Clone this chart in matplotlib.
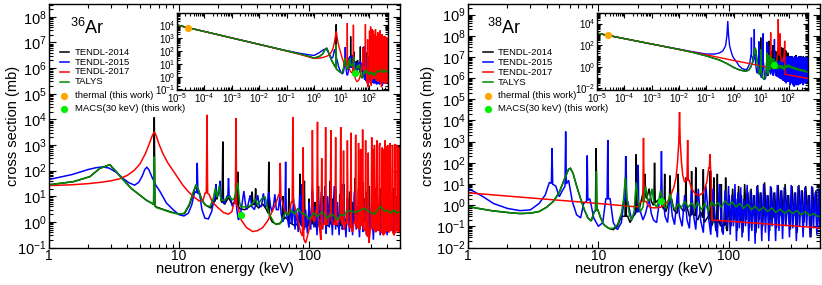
import numpy as np
import matplotlib
matplotlib.use("Agg")
import matplotlib.pyplot as plt
from matplotlib.ticker import (LogLocator, FixedLocator, FuncFormatter,
                               NullFormatter, LogFormatterSciNotation)
from matplotlib.lines import Line2D

plt.rcParams['font.family'] = ['Liberation Sans', 'DejaVu Sans']
plt.rcParams['mathtext.fontset'] = 'custom'
plt.rcParams['mathtext.rm'] = 'Liberation Sans'
plt.rcParams['mathtext.it'] = 'Liberation Sans:italic'
plt.rcParams['mathtext.bf'] = 'Liberation Sans:bold'
plt.rcParams['mathtext.default'] = 'regular'

# ---------------------------------------------------------------- data
# (energy keV, cross section mb) knots, plus narrow
# resonances (energy keV, peak mb)
labels = ["TENDL-2014", "TENDL-2015", "TENDL-2017", "TALYS"]
marker_labels = ["thermal (this work)", "MACS(30 keV) (this work)"]

# ---------- 36Ar
ar36_t14 = [(1e-5,1.05e4),(1e-4,3.3e3),(1e-3,1.05e3),(1e-2,330),(0.1,103),(0.3,58),(0.6,40),
            (1.0,28),(1.54,37),(2.06,58),(2.46,122),(2.93,170),(3.3,90),(3.7,45),(4.3,20),(5.0,11),
            (5.6,7),(6.2,5.3),(6.7,3.8),(7.5,3.1),(8.5,2.5),(10,2.0),(11,2.1),(12,4.5),(12.8,12),
            (13.5,28),(14.2,16),(15,7),(16,4.5),(17.5,3.5),(18.6,6),(19.6,8),(20.4,20),(21.2,6),
            (22.5,5),(24,9),(25.5,5),(27,6),(29.5,3.2),(32,3.0),(35,4),(38,5),(41,3.5),(44,5),
            (47,3),(52,1.0),(56,0.8),(60,0.9),(66,1.5),(72,0.9),(78,0.7),(84,1.0),(90,0.6),
            (97,0.7),(105,0.9),(115,0.6),(125,1.0),(140,0.7),(155,1.0),(170,0.6),(190,1.2),
            (210,0.8),(230,1.1),(250,0.7),(275,1.3),(300,0.8),(330,1.0),(360,0.6),(400,0.9),
            (440,0.6),(470,0.8),(500,0.7)]
ar36_t14_res = [(6.45,1.2e4),(19.2,30),(21.7,1350),(28.3,90),(36.5,15),(38.8,20),(49,220),
                (63,10),(70,20),(85,75),(92,40),(100,8),(106,15),(111,6),(118,25),(128,10),
                (136,5),(145,40),(152,8),(160,20),(172,12),(185,30),(197,8),(205,15),(215,6),
                (225,50),(240,20),(258,35),(266,8),(279,15),(290,25),(310,12),(320,6),(333,40),
                (350,20),(365,8),(375,15),(388,6),(403,30),(420,12),(432,5),(445,20),(458,8),
                (473,10),(490,15)]

ar36_t15 = [(1e-5,1.05e4),(1e-4,3.3e3),(1e-3,1.05e3),(1e-2,332),(0.1,106),(0.3,66),(0.6,52),
            (1.0,45),(1.5,70),(2.0,110),(2.3,130),(2.6,140),(2.9,125),(3.3,85),(3.7,50),(4.1,34),
            (4.55,27),(4.9,35),(5.2,60),(5.45,110),(5.65,135),(5.85,110),(6.2,55),(6.6,28),
            (7.1,16),(8.0,5.4),(9.0,3.0),(10,1.9),(10.9,1.7),(11.8,2.2),(12.5,4.5),(13.2,15),
            (14.4,12),(15,3),(15.8,1.4),(16.8,1.3),(17.8,2.5),(18.6,8),(19.7,10),(20.2,15),
            (21.3,10),(22.3,5),(23.3,10),(24.7,10),(25.7,4),(26.6,6),(27.2,12),(27.8,3),
            (28.6,1.2),(29.5,1.5),(30.5,5),(31.5,16),(32.4,5),(33.3,3),(34.3,6),(35.2,11),
            (36.2,4),(38,3),(39.3,6),(40.3,11),(41.5,4),(43,4),(44.5,13),(46,4),(47.5,4),(49,15),
            (50.5,4),(52,2.5),(53.5,5),(54.5,12),(56,3),(58,3),(59.5,10),(61,2),(63,1.0),(65,3),
            (68,1.5),(70,0.6),(72,4),(74,0.8),(76,8),(78,0.5),(80,3),(82.5,0.4),(85,12),(87,0.7),
            (89.5,5),(92,0.5),(94,3),(97,0.35),(100,6),(103,0.5),(106,20),(109,0.6),(112,4),
            (115,0.3),(118,8),(121,0.6),(124,15),(127,0.5),(131,5),(135,0.35),(139,10),(143,0.6),
            (147,4),(151,0.3),(156,25),(160,0.5),(165,6),(170,0.3),(175,12),(180,0.5),(186,4),
            (192,0.25),(198,9),(204,0.4),(210,5),(216,0.3),(223,15),(230,0.5),(237,4),(244,0.25),
            (252,10),(260,0.4),(268,6),(276,0.3),(285,12),(294,0.5),(303,4),(312,0.2),(322,8),
            (332,0.45),(342,5),(352,0.3),(363,10),(374,0.5),(386,4),(398,0.3),(410,8),(423,0.5),
            (436,5),(449,0.35),(463,7),(477,0.5),(490,4),(500,0.6)]
ar36_t15_res = [(13.8,200),(19.2,30),(20.7,40),(24.0,50),(66,220),(88,30),(133,25),(178,30),
                (255,25),(327,20),(416,15)]

ar36_t17 = [(1e-5,1.05e4),(1e-4,3.3e3),(1e-3,1.05e3),(1e-2,328),(0.1,100),(0.3,55),(0.6,36),
            (1.0,26),(1.5,28),(2.0,31),(2.5,35),(3.0,40),(3.5,48),(4.0,65),(4.5,100),(5.0,180),
            (5.5,450),(5.9,1100),(6.2,2200),(6.45,3300),(6.7,2200),(7.0,1100),(7.5,470),(8.2,200),
            (9.0,100),(10,45),(10.7,27),(11.8,15),(12.8,10),(14.3,6.5),(15.3,7),(15.9,14),
            (17.0,12),(18,6),(20,3.5),(22,2.3),(24,2.0),(25.5,2.5),(26.6,6),(28.3,4),(30,1.2),
            (33,0.6),(36.8,0.42),(40,0.45),(44,0.6),(48,1.1),(52,2.5),(56,6),(58.5,12),(61.5,8),
            (65,2.5),(70,2.0),(73,6),(77,5),(81,1.5),(86,0.4),(94,0.15),(100,0.5),(103,1.5),
            (110,1.0),(113,3),(119,1.0),(123,0.2),(128,0.8),(139,0.8),(143,2),(151,1.0),(155,0.8),
            (166,0.8),(170,1.5),(181,0.8),(186,0.5),(191,1.0),(203,0.7),(216,0.4),(222,1.0),
            (234,0.6),(246,0.5),(252,0.8),(265,0.5),(280,0.3),(288,0.15),(296,0.5),(310,0.6),
            (325,0.4),(342,0.5),(358,0.4),(375,0.3),(393,0.5),(411,0.4),(430,0.5),(450,0.3),
            (470,0.5),(490,0.4),(500,0.5)]
ar36_t17_res = [(16.4,1.5e4),(27.4,1.1e4),(60,200),(75,1.2e4),(90,800),(106,3800),(116,8000),
                (125,300),(134,5000),(147,3800),(160,2000),(175,5000),(184,600),(197,1500),
                (210,3000),(228,2500),(240,1200),(249,700),(258,4000),(272,1500),(285,500),
                (303,2000),(314,700),(318,1000),(333,1500),(346,900),(350,1200),(362,600),
                (366,800),(379,700),(384,1500),(397,900),(402,1000),(415,700),(420,1200),
                (435,1000),(440,900),(455,800),(460,1100),(475,900),(480,1000),(494,700),(497,800)]

ar36_talys = [(1e-5,1.05e4),(1e-4,3.3e3),(1e-3,1.05e3),(1e-2,330),(0.1,103),(0.3,58),(0.6,40),
              (1.0,28),(1.54,37),(2.06,58),(2.46,122),(2.93,170),(3.3,90),(3.7,45),(4.3,20),
              (5.0,11),(5.6,7),(6.2,5.3),(6.7,3.6),(7.5,3.0),(8.5,2.4),(10,2.0),(11,2.2),(12,5),
              (12.8,14),(13.5,28),(14.2,16),(14.8,8),(15.8,4.6),(17.3,3.9),(18.3,8),(19,20),
              (19.6,9),(20.4,27),(21,7),(22.3,7),(23.5,9),(24.5,10),(25.5,7),(26.8,9),(28.3,35),
              (29.2,6),(29.8,3.9),(33,3.8),(36,4.5),(38.5,8),(40.3,4.5),(43.2,8),(46,9.5),(47.5,4),
              (49,2.2),(53.9,0.9),(57,0.8),(60,0.85),(63,1.5),(66,2.4),(69,1.8),(72.7,2.9),(77,2.0),
              (82,3.4),(87,2.2),(92,2.0),(100,1.3),(108,2.2),(116,1.6),(126,2.5),(138,1.4),
              (150,2.0),(165,1.2),(175,1.9),(185,1.8),(200,2.8),(222,2.4),(240,2.6),(265,3.4),
              (290,2.5),(318,2.0),(340,3.2),(357,3.9),(380,2.6),(400,2.8),(425,2.2),(448,2.9),
              (470,2.3),(500,2.4)]
ar36_talys_res = [(6.45,350)]

ar36_thermal = (2.53e-5, 6.5e3)
ar36_macs = (30.0, 1.9)

# ---------- 38Ar
ar38_talys = [(1e-5,1270),(1e-4,400),(1e-3,127),(1e-2,40),(0.03,22),(0.1,10),(0.3,4.2),(0.6,1.8),
              (1.0,0.85),(1.5,0.55),(2.0,0.45),(2.5,0.4),(3.0,0.42),(3.5,0.5),(4.0,0.8),(4.5,1.5),
              (5.0,4),(5.5,18),(5.9,50),(6.1,55),(6.4,30),(6.8,8),(7.3,2),(7.8,0.6),(8.3,0.25),
              (8.8,0.18),(9.3,0.5),(9.9,0.6),(10.4,0.25),(11,0.12),(12,0.08),(13,0.08),(14,0.12),
              (15,0.4),(15.6,2),(16.1,20),(16.6,2),(17.3,0.35),(18,0.2),(18.8,0.5),(19.5,12),
              (20.2,1.5),(21,0.5),(22,0.8),(23,8),(24,1.5),(25,2),(25.8,6),(26.8,1.2),(28,0.8),
              (29,1.5),(30,5),(31.5,1.2),(33,0.7),(34.5,1.5),(35.5,3.5),(37,1.0),(39,0.6),(41,1.2),
              (43,0.7),(46,1.5),(49,0.8),(52,1.3),(55,0.7),(58,1.4),(62,0.6),(66,1.2),(70,0.5),
              (74,1.5),(78,0.9),(83,1.3),(88,0.8),(94,1.6),(100,1.0),(107,1.4),(114,0.8),(122,1.2),
              (130,0.7),(140,1.1),(150,0.6),(160,0.9),(172,0.55),(185,0.8),(200,0.5),(215,0.75),
              (230,0.45),(250,0.65),(270,0.4),(290,0.6),(310,0.4),(335,0.55),(360,0.35),(390,0.5),
              (420,0.32),(450,0.4),(480,0.3),(500,0.3)]
ar38_talys_res = [(9.65,40)]

ar38_t14 = [(1e-5,1270),(1e-4,400),(1e-3,127),(1e-2,40),(0.03,22),(0.1,10),(0.3,4.2),(0.6,1.8),
            (1.0,0.85),(1.5,0.55),(2.0,0.45),(2.5,0.4),(3.0,0.42),(3.5,0.5),(4.0,0.8),(4.5,1.5),
            (5.0,4),(5.5,18),(5.9,50),(6.1,55),(6.4,30),(6.8,8),(7.3,2),(7.8,0.6),(8.3,0.25),
            (8.8,0.18),(9.3,0.5),(9.9,0.6),(10.4,0.25),(11,0.12),(12,0.08),(13,0.07),(14,0.1),
            (15,0.3),(16.8,0.3),(17.5,0.15),(18.5,0.3),(20.5,0.6),(21.5,2),(22.2,5),(23.5,2),
            (24.5,6),(25.5,1.5),(26.4,1),(28,1.5),(29.5,2),(31,0.8),(33,0.5),(34.5,1.2),(36.5,2),
            (38,0.6),(40,0.4),(42,1.0),(45,0.5),(48,0.8),(50,0.3),(54,0.4),(58,0.2),(61,0.5),
            (65,0.15),(70,0.3),(74,0.1),(78,0.25),(80,0.06),(84,0.2),(90,0.05),(92,0.15),(98,0.06),
            (101,3),(104.5,0.1),(107.5,6),(110.5,0.2),(113.5,2),(116.5,0.06),(119.5,8),(122.5,0.15),
            (125.5,3),(129,0.05),(133,10),(137,0.2),(141,4),(145,0.08),(149,6),(153.5,0.3),
            (158,3),(162.5,0.05),(167.5,9),(172.5,0.2),(177.5,4),(183,0.1),(189,12),(195,0.3),
            (201,3),(207,0.06),(213,7),(219.5,0.25),(226.5,4),(233.5,0.08),(240.5,9),(248,0.3),
            (256,5),(264,0.1),(272,10),(280.5,0.4),(289.5,3),(298.5,0.07),(307.5,8),(317,0.3),
            (327,4),(337,0.05),(347,9),(357.5,0.3),(368.5,5),(380,0.15),(392,8),(404,0.4),
            (416.5,3),(429.5,0.03),(442.5,7),(456,0.3),(470,5),(483.5,0.1),(497,6),(500,0.3)]
ar38_t14_res = [(9.6,500),(16.2,200),(19.5,250),(22.8,30),(27,100),(32.3,30),(35.5,25),(41,30),
                (47,20),(52,40),(56,60),(64,50),(72,40),(77,20),(82,30),(88,10),(95,20)]

ar38_t15 = [(1e-5,1270),(1e-4,400),(1e-3,127),(1e-2,42),(0.03,25),(0.1,15),(0.2,15),(0.3,19),
            (0.4,30),(0.5,90),(0.56,800),(0.6,1.7e4),(0.64,800),(0.7,90),(0.8,25),(0.9,10),
            (1.0,6.2),(1.3,2.5),(1.56,1.2),(2.0,0.7),(2.5,0.55),(3.0,0.6),(3.5,1.2),(3.9,3),
            (4.2,12),(4.7,8),(5.0,2.5),(5.3,5),(5.9,15),(6.3,1.5),(6.8,0.35),(7.3,0.25),(7.7,1.2),
            (8.6,2),(9.2,0.25),(10,0.1),(10.8,0.15),(11.4,2),(12.3,2),(13,0.15),(14,0.07),
            (15,0.15),(15.8,2),(16.8,1.5),(18,0.2),(19.2,0.5),(21,0.5),(22,0.2),(23,0.4),(24.5,2),
            (25.5,0.4),(26.5,0.2),(28,0.15),(29.6,2),(31.4,2),(32.5,0.3),(34,0.15),(35.5,3),
            (37,0.3),(38.5,0.12),(40.5,4),(42,0.3),(44,0.1),(46,3),(48,0.2),(50,0.08),(52,5),
            (54,0.3),(56,0.07),(58.5,6),(61,0.2),(64,0.05),(67,8),(70,0.3),(73,0.04),(76,6),
            (79,0.2),(82,0.03),(85,10),(88,0.15),(91,0.04),(94,5),(97,0.1),(100,8),(103,0.04),
            (106,3),(109,0.1),(112,10),(115,0.02),(118,4),(121,0.08),(124,7),(127,0.03),(131,2),
            (135,0.1),(139,9),(143,0.02),(147,5),(151,0.06),(156,3),(160,0.015),(165,8),(170,0.08),
            (175,4),(180,0.02),(186,10),(192,0.05),(198,3),(204,0.02),(210,8),(216,0.1),(223,4),
            (230,0.02),(237,9),(244,0.06),(252,5),(260,0.025),(268,7),(276,0.1),(285,3),(294,0.03),
            (303,9),(312,0.08),(322,4),(332,0.02),(342,8),(352,0.1),(363,5),(374,0.03),(386,7),
            (398,0.1),(410,3),(423,0.03),(436,8),(449,0.08),(463,4),(477,0.04),(490,6),(500,0.1)]
ar38_t15_res = [(4.4,500),(5.6,3000),(8.2,220),(11.8,1200),(16.3,200),(20.2,80),(30.5,350)]

ar38_t17 = [(1e-5,1270),(1e-4,400),(1e-3,127),(1e-2,40),(0.1,12.7),(1.0,3.8),(5,1.7),(10,1.2),
            (20,0.82),(21.3,1.5),(23.2,1.5),(24.5,0.85),(26,0.75),(28,0.75),(30,0.8),(32,1.0),
            (34,1.5),(36,3),(38,7),(39.5,20),(40.5,100),(41.5,1000),(42,2.5e4),(42.5,1000),
            (43.5,100),(44.5,25),(46,12),(47.2,15),(49.8,15),(52,6),(56,3.2),(60,3.0),(64,4),
            (68,12),(70.5,60),(73.5,40),(74.2,0.2),(500,0.085)]
ar38_t17_res = [(22.2,1500),(48.5,1200),(72,250)]

ar38_thermal = (2.53e-5, 830)
ar38_macs = (30.0, 1.5)

colors = ['black', '#0000ff', '#ff0000', '#008b00']
thermal_color = '#ffa500'
macs_color = '#00ee00'


def curve(knots, res=(), w=0.012):
    k = np.array(knots, float)
    E, y = k[:, 0], k[:, 1]
    lE, ly = np.log10(E), np.log10(y)
    xs, ys = list(E), list(y)
    for e, p in res:
        for ee in (e * (1 - w), e * (1 + w)):
            xs.append(ee)
            ys.append(10 ** np.interp(np.log10(ee), lE, ly))
        xs.append(e)
        ys.append(p)
    xs = np.array(xs); ys = np.array(ys)
    o = np.argsort(xs, kind='stable')
    return xs[o], ys[o]


W, H = 822, 285
fig = plt.figure(figsize=(W / 100, H / 100), dpi=100)


def rect(l, t, r, b):
    return [l / W, 1 - b / H, (r - l) / W, (b - t) / H]


def style(ax, maj, mino, lsx, lsy, padx, pady):
    ax.tick_params(which='both', direction='in', top=True, right=True, width=0.8)
    ax.tick_params(which='major', length=maj)
    ax.tick_params(which='minor', length=mino)
    ax.tick_params(axis='x', labelsize=lsx, pad=padx)
    ax.tick_params(axis='y', labelsize=lsy, pad=pady)
    for s in ax.spines.values():
        s.set_linewidth(1.0)


sub = np.arange(2, 10)


def draw_series(ax, data, lw):
    for (kn, rs), c in zip(data, colors):
        x, y = curve(kn, rs)
        ax.plot(x, y, color=c, lw=lw, solid_joinstyle='miter')


panels = [
    dict(main=rect(49, 4, 400, 247.5), inset=rect(177, 12.5, 388, 90),
         ylim=(0.1, 10 ** 8.5), iylim=(10 ** -1.04, 1e5),
         iyt=[1e-1, 1, 1e1, 1e2, 1e3, 1e4],
         data=[(ar36_t14, ar36_t14_res), (ar36_t15, ar36_t15_res),
               (ar36_t17, ar36_t17_res), (ar36_talys, ar36_talys_res)],
         thermal=ar36_thermal, macs=ar36_macs, iso='36', isox=70,
         leg_line=(60, 68.5), leg_text=75, leg_mark=64.3,
         rows=[52.3, 62.3, 71.7, 81.7, 96, 108.5], ylab_x=-0.083),
    dict(main=rect(468.3, 4, 819.5, 247.5), inset=rect(597, 12.7, 807.7, 89.5),
         ylim=(0.01, 10 ** 9.5), iylim=(10 ** -2.1, 1e5),
         iyt=[1e-2, 1, 1e2, 1e4],
         data=[(ar38_t14, ar38_t14_res), (ar38_t15, ar38_t15_res),
               (ar38_t17, ar38_t17_res), (ar38_talys, ar38_talys_res)],
         thermal=ar38_thermal, macs=ar38_macs, iso='38', isox=487,
         leg_line=(483, 493), leg_text=498, leg_mark=488,
         rows=[52.3, 62.3, 72.3, 82.3, 96, 108.5], ylab_x=-0.095),
]

for P in panels:
    ax = fig.add_axes(P['main'])
    ax.set_xscale('log'); ax.set_yscale('log')
    draw_series(ax, P['data'], 1.1)
    ax.plot([P['macs'][0]], [P['macs'][1]], 'o', color=macs_color, ms=5.2, mec='none', zorder=5)
    ax.set_xlim(1, 500); ax.set_ylim(*P['ylim'])
    ax.xaxis.set_major_locator(FixedLocator([1, 10, 100]))
    ax.xaxis.set_major_formatter(FuncFormatter(lambda v, p: '%g' % v))
    ax.xaxis.set_minor_locator(LogLocator(base=10, subs=sub, numticks=30))
    ax.xaxis.set_minor_formatter(NullFormatter())
    ax.yaxis.set_major_locator(LogLocator(base=10, subs=(1.0,), numticks=30))
    ax.yaxis.set_major_formatter(LogFormatterSciNotation())
    ax.yaxis.set_minor_locator(LogLocator(base=10, subs=sub, numticks=30))
    ax.yaxis.set_minor_formatter(NullFormatter())
    style(ax, 5, 2.8, 10, 10.5, 1, 1.7)
    ax.set_xlabel('neutron energy (keV)', fontsize=10.5)
    ax.set_ylabel('cross section (mb)', fontsize=10.5)
    ax.xaxis.set_label_coords(0.5, -0.058)
    ax.yaxis.set_label_coords(P['ylab_x'], 0.5)

    ia = fig.add_axes(P['inset'], zorder=3)
    ia.set_facecolor('white')
    ia.set_xscale('log'); ia.set_yscale('log')
    draw_series(ia, P['data'], 1.0)
    ia.plot([P['thermal'][0]], [P['thermal'][1]], 'o', color=thermal_color, ms=5.2, mec='none', zorder=5)
    ia.plot([P['macs'][0]], [P['macs'][1]], 'o', color=macs_color, ms=5.2, mec='none', zorder=5)
    ia.set_xlim(1e-5, 500); ia.set_ylim(*P['iylim'])
    ia.xaxis.set_major_locator(LogLocator(base=10, subs=(1.0,), numticks=30))
    ia.xaxis.set_major_formatter(LogFormatterSciNotation())
    ia.xaxis.set_minor_locator(LogLocator(base=10, subs=sub, numticks=30))
    ia.xaxis.set_minor_formatter(NullFormatter())
    ia.yaxis.set_major_locator(FixedLocator(P['iyt']))
    ia.yaxis.set_major_formatter(LogFormatterSciNotation())
    ia.yaxis.set_minor_locator(LogLocator(base=10, subs=np.arange(1, 10), numticks=30))
    ia.yaxis.set_minor_formatter(NullFormatter())
    style(ia, 3.5, 2.0, 7.0, 7.0, 1.2, 1.0)

    # isotope label
    fig.text(P['isox'] / W, 1 - 33.5 / H, r'$^{%s}$Ar' % P['iso'], fontsize=13, va='baseline')

    # legend
    x0, x1 = P['leg_line']
    for i, (lab, c) in enumerate(zip(labels, colors)):
        yy = 1 - P['rows'][i] / H
        fig.add_artist(Line2D([x0 / W, x1 / W], [yy, yy], color=c, lw=1.1,
                              transform=fig.transFigure))
        fig.text(P['leg_text'] / W, yy, lab, fontsize=6.8, va='center')
    for j, (lab, c) in enumerate(zip(marker_labels, [thermal_color, macs_color])):
        yy = 1 - P['rows'][4 + j] / H
        fig.add_artist(Line2D([P['leg_mark'] / W], [yy], marker='o', color=c, ms=5.2,
                              mec='none', ls='none', transform=fig.transFigure))
        fig.text(P['leg_text'] / W, yy, lab, fontsize=6.8, va='center')

fig.savefig('out.png', dpi=100)
